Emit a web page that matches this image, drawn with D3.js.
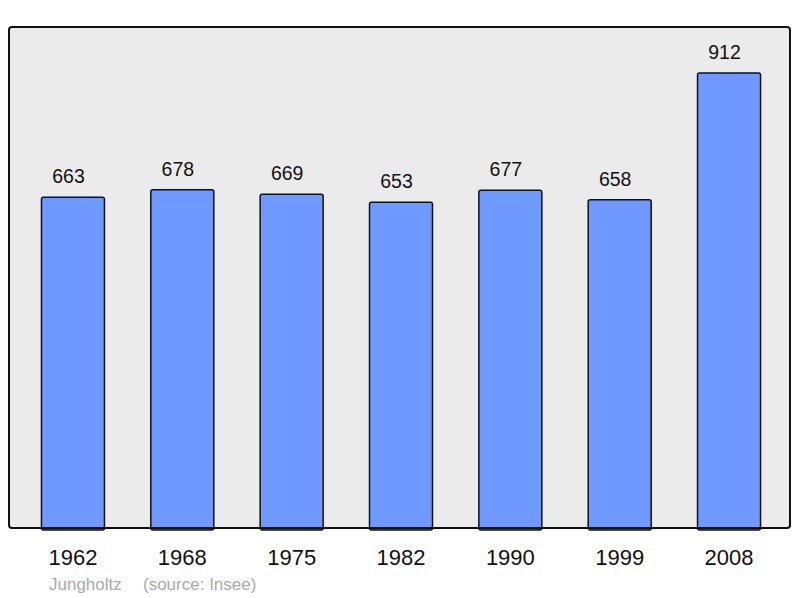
<!DOCTYPE html>
<html><head><meta charset="utf-8">
<script src="https://cdn.jsdelivr.net/npm/d3@7"></script>
<style>body{margin:0;background:#fff}svg{display:block}</style>
</head><body>
<svg id="c" width="800" height="598"></svg>
<script>
const years = ["1962","1968","1975","1982","1990","1999","2008"];
const population = [663,678,669,653,677,658,912];
const commune = "Jungholtz";
const source = "(source: Insee)";

const svg = d3.select("#c");
const panel = {x:9, y:27, w:781, h:501};

const x = d3.scaleBand().domain(years).range([9, 793]).paddingInner(0.424).paddingOuter(0.297);
const y = d3.scaleLinear().domain([0, 1004]).range([panel.y + panel.h, panel.y]);

svg.append("rect").attr("x", panel.x).attr("y", panel.y).attr("width", panel.w).attr("height", panel.h)
  .attr("rx", 3).attr("fill", "#ebebeb").attr("stroke", "none");

const data = years.map((yr, i) => ({yr, v: population[i]}));

svg.selectAll("rect.bar").data(data).join("rect").attr("class","bar")
  .attr("x", d => x(d.yr)).attr("y", d => y(d.v))
  .attr("width", x.bandwidth()).attr("height", d => y(0) - y(d.v) + 2)
  .attr("rx", 2)
  .attr("fill", "#7099ff").attr("stroke", "#111").attr("stroke-width", 1.5);

svg.append("rect").attr("x", panel.x).attr("y", panel.y).attr("width", panel.w).attr("height", panel.h)
  .attr("rx", 3).attr("fill", "none").attr("stroke", "#111").attr("stroke-width", 2);

svg.selectAll("text.val").data(data).join("text").attr("class","val")
  .attr("x", d => x(d.yr) + x.bandwidth()/2 - 4.5).attr("y", d => y(d.v) - 14)
  .attr("text-anchor","middle").attr("font-family","Liberation Sans, Arial, sans-serif")
  .attr("font-size", 19.5).attr("fill","#111").text(d => d.v);

const xAxis = d3.axisBottom(x).tickSize(0).tickPadding(0);
const gx = svg.append("g").attr("transform", `translate(0,${panel.y+panel.h})`).call(xAxis);
gx.select(".domain").remove();
gx.selectAll("text").attr("font-family","Liberation Sans, Arial, sans-serif").attr("font-size", 22)
  .attr("fill","#111").attr("dy", null).attr("y", 37);

svg.append("text").attr("x", 49).attr("y", 590).attr("font-family","Liberation Sans, Arial, sans-serif")
  .attr("font-size", 17).attr("fill","#aaa").text(commune);
svg.append("text").attr("x", 143).attr("y", 590).attr("font-family","Liberation Sans, Arial, sans-serif")
  .attr("font-size", 17).attr("fill","#aaa").text(source);
</script>
</body></html>
